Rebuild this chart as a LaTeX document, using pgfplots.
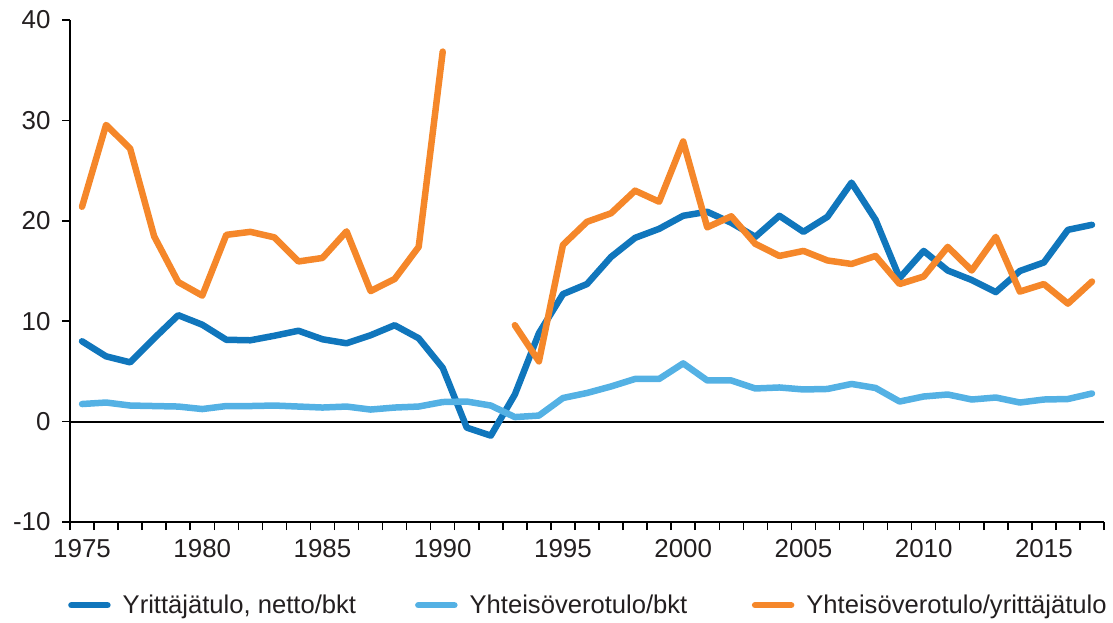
\documentclass[border=0pt]{standalone}
\usepackage{pgfplots}
\pgfplotsset{compat=1.18}
\usepackage{fontspec}
\setmainfont{Liberation Sans}
\definecolor{dblue}{RGB}{16,118,188}
\definecolor{lblue}{RGB}{84,177,228}
\definecolor{orng}{RGB}{245,135,42}
\definecolor{txt}{RGB}{35,31,32}
\begin{document}
\begin{tikzpicture}
\begin{axis}[
  name=ax,
  scale only axis, width=1034bp, height=502bp,
  xmin=1974.5, xmax=2017.5, ymin=-10, ymax=40,
  axis x line=bottom, axis y line=left,
  axis line style={-, line width=1.8bp, black},
  xtick={1975,1980,...,2015},
  minor xtick={1974.5,1975.5,...,2017.5},
  ytick={-10,0,...,40},
  tick align=outside,
  major tick length=8bp, minor tick length=8bp,
  major x tick style={draw=none},
  minor x tick style={line width=1.5bp, black},
  major y tick style={line width=1.5bp, black},
  /pgf/number format/assume math mode=true,
  /pgf/number format/1000 sep={},
  tick label style={font=\fontsize{26}{30}\selectfont, text=txt},
  xticklabel style={yshift=-6bp},
  yticklabel style={xshift=-8bp},
  unbounded coords=jump,
  legend columns=3,
  legend style={at={(axis description cs:0,0)}, anchor=north west, xshift=-5bp, yshift=-69bp,
    draw=none, fill=none, font=\fontsize{25.7}{30}\selectfont, text=txt,
    /tikz/column 1/.style={column sep=10bp},
    /tikz/column 2/.style={column sep=57bp},
    /tikz/column 3/.style={column sep=10bp},
    /tikz/column 4/.style={column sep=62.5bp},
    /tikz/column 5/.style={column sep=10bp},
    nodes={inner sep=2bp}},
  legend cell align=left,
  legend image code/.code={\draw[#1, line width=6.5bp, line cap=round] (0bp,0bp) -- (36bp,0bp);},
  every axis plot/.append style={line width=6.5bp, line join=round, line cap=round},
  clip=false,
]
\addplot[forget plot, black, line width=1.8bp, line cap=butt] coordinates {(1974.5,0) (2017.5,0)};
\addplot[dblue] coordinates {
(1975,8.0) (1976,6.5) (1977,5.9) (1978,8.3) (1979,10.6) (1980,9.65) (1981,8.15) (1982,8.1)
(1983,8.55) (1984,9.05) (1985,8.2) (1986,7.8) (1987,8.6) (1988,9.6) (1989,8.3) (1990,5.35)
(1991,-0.6) (1992,-1.4) (1993,2.7) (1994,8.8) (1995,12.7) (1996,13.7) (1997,16.4) (1998,18.3)
(1999,19.2) (2000,20.5) (2001,20.9) (2002,19.8) (2003,18.4) (2004,20.5) (2005,18.9) (2006,20.4)
(2007,23.8) (2008,20.1) (2009,14.3) (2010,17.0) (2011,15.05) (2012,14.1) (2013,12.9) (2014,15.0)
(2015,15.85) (2016,19.1) (2017,19.6)};
\addlegendentry{Yrittäjätulo, netto/bkt}
\addplot[lblue] coordinates {
(1975,1.75) (1976,1.9) (1977,1.6) (1978,1.55) (1979,1.5) (1980,1.25) (1981,1.55) (1982,1.55)
(1983,1.6) (1984,1.5) (1985,1.4) (1986,1.5) (1987,1.2) (1988,1.4) (1989,1.5) (1990,1.95)
(1991,2.0) (1992,1.6) (1993,0.45) (1994,0.6) (1995,2.35) (1996,2.85) (1997,3.5) (1998,4.25)
(1999,4.25) (2000,5.8) (2001,4.1) (2002,4.1) (2003,3.3) (2004,3.4) (2005,3.2) (2006,3.25)
(2007,3.75) (2008,3.35) (2009,2.0) (2010,2.5) (2011,2.7) (2012,2.2) (2013,2.4) (2014,1.9)
(2015,2.2) (2016,2.25) (2017,2.8)};
\addlegendentry{Yhteisöverotulo/bkt}
\addplot[orng] coordinates {
(1975,21.4) (1976,29.55) (1977,27.2) (1978,18.45) (1979,13.9) (1980,12.55) (1981,18.6) (1982,18.9)
(1983,18.35) (1984,15.95) (1985,16.3) (1986,18.95) (1987,13.0) (1988,14.2) (1989,17.4) (1990,36.85)
(1991,nan) (1992,nan) (1993,9.6) (1994,6.0) (1995,17.6) (1996,19.9) (1997,20.75) (1998,23.0)
(1999,21.9) (2000,27.9) (2001,19.35) (2002,20.45) (2003,17.7) (2004,16.5) (2005,17.0) (2006,16.05)
(2007,15.7) (2008,16.5) (2009,13.7) (2010,14.45) (2011,17.4) (2012,15.05) (2013,18.4) (2014,12.95)
(2015,13.7) (2016,11.75) (2017,13.95)};
\addlegendentry{Yhteisöverotulo/yrittäjätulo}
\end{axis}
\pgfresetboundingbox
\path[use as bounding box] ([shift={(-70bp,-100bp)}]ax.south west) rectangle ([shift={(9bp,20bp)}]ax.north east);
\end{tikzpicture}
\end{document}
